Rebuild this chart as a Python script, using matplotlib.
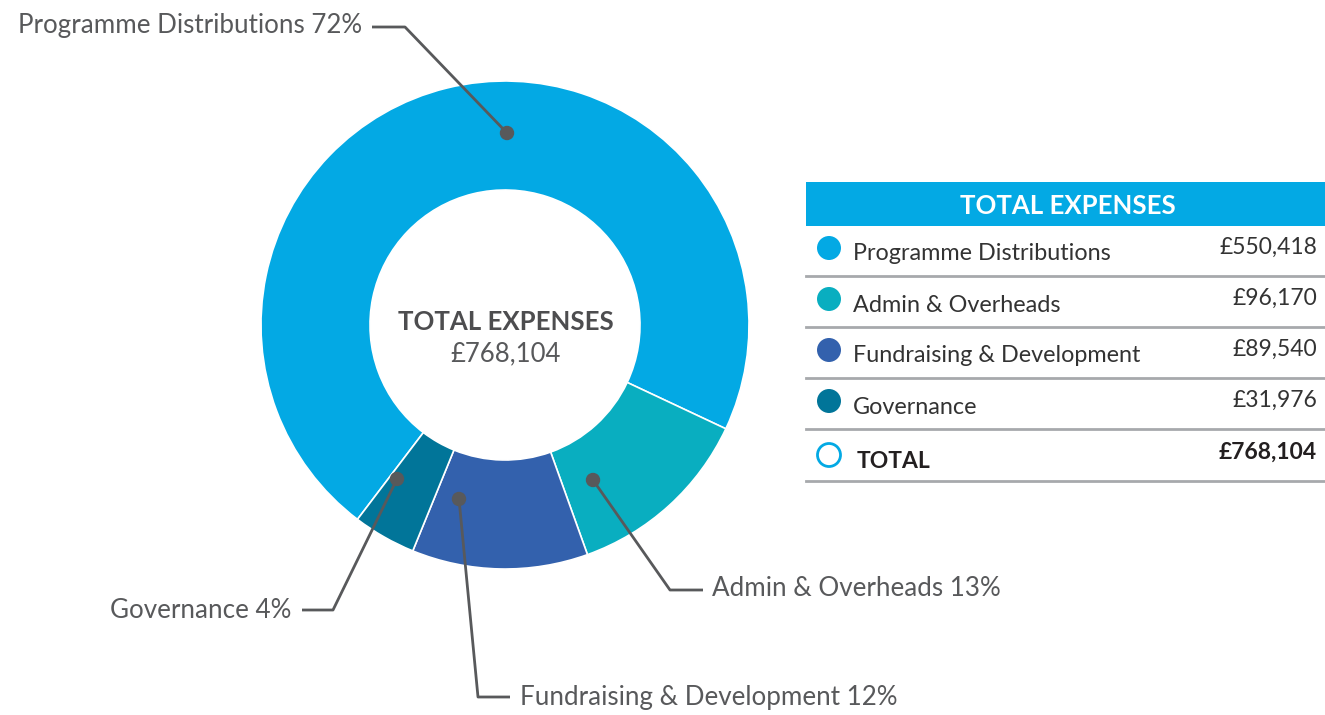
import matplotlib.pyplot as plt
from matplotlib.patches import Circle

plt.rcParams['font.family'] = ['Lato', 'DejaVu Sans']

categories = ['Programme Distributions', 'Admin & Overheads',
              'Fundraising & Development', 'Governance']
amounts = [550418, 96170, 89540, 31976]
percent_labels = ['72%', '13%', '12%', '4%']
colors = ['#03a9e4', '#09aec0', '#3361ad', '#017599']
total_label = '£768,104'

W, H = 1325, 715
fig = plt.figure(figsize=(W / 100, H / 100), dpi=100)
ax = fig.add_axes([0, 0, 1, 1])

text_gray = '#58595b'
line_gray = '#58595b'

# donut (pixel coords with y flipped)
cx, cy = 505, H - 325
r_out, r_in = 244, 135
ax.pie(amounts, colors=colors, center=(cx, cy), radius=r_out,
       startangle=232.8, counterclock=False, frame=True,
       wedgeprops=dict(width=r_out - r_in, edgecolor='white', linewidth=1.2))
ax.set_xlim(0, W)
ax.set_ylim(0, H)
ax.set_aspect('equal')
ax.axis('off')

ax.text(cx + 1, H - 322, 'TOTAL EXPENSES', ha='center', va='center',
        fontsize=18.5, fontweight='bold', color='#4d4d4f')
ax.text(cx + 1, H - 354, total_label, ha='center', va='center',
        fontsize=18.5, color=text_gray)

# leader lines: dot, elbow, end, text position, alignment
leaders = [
    ((507, 133), (405, 27), (372, 27), (362, 25), 'right'),
    ((593, 480), (670, 590), (703, 590), (712, 589), 'left'),
    ((459, 499), (478, 697), (510, 697), (520, 698), 'left'),
    ((397, 479), (333, 610), (302, 610), (291, 610), 'right'),
]
for i, (dot, elbow, end, tpos, align) in enumerate(leaders):
    xs = [dot[0], elbow[0], end[0]]
    ys = [H - dot[1], H - elbow[1], H - end[1]]
    ax.plot(xs, ys, color=line_gray, lw=2, solid_capstyle='butt', zorder=5)
    ax.add_patch(Circle((dot[0], H - dot[1]), 6.5, color=line_gray, zorder=6))
    ax.text(tpos[0], H - tpos[1], categories[i] + ' ' + percent_labels[i],
            ha=align, va='center', fontsize=18.7, color=text_gray)

# table
tx0, tx1 = 806, 1325
ax.add_patch(plt.Rectangle((tx0, H - 226), tx1 - tx0, 44, color='#03a9e4', lw=0))
ax.text((tx0 + tx1) / 2 + 2, H - 206, 'TOTAL EXPENSES', ha='center', va='center',
        fontsize=18.5, fontweight='bold', color='white')

row_lines = [276, 327, 378, 429, 481]
row_text_y = [254, 305, 356, 407]
for i, name in enumerate(categories):
    y = row_text_y[i]
    ax.add_patch(Circle((829, H - (y - 6)), 12, color=colors[i], lw=0))
    ax.text(853, H - y, name, ha='left', va='center', fontsize=16.8, color='#333333')
    ax.text(1317, H - (y - 7), '£{:,}'.format(amounts[i]), ha='right',
            va='center', fontsize=16.5, color='#333333')
for ly in row_lines:
    ax.plot([tx0, tx1], [H - ly, H - ly], color='#a7a9ac', lw=2)

ax.add_patch(Circle((829, H - 455), 11.5, facecolor='white', edgecolor='#03a9e4', lw=2))
ax.text(857, H - 461, 'TOTAL', ha='left', va='center', fontsize=16.5,
        fontweight='bold', color='#231f20')
ax.text(1317, H - 452, '£{:,}'.format(sum(amounts)), ha='right', va='center',
        fontsize=16.5, fontweight='bold', color='#231f20')

fig.savefig('out.png', dpi=100, facecolor='white')
